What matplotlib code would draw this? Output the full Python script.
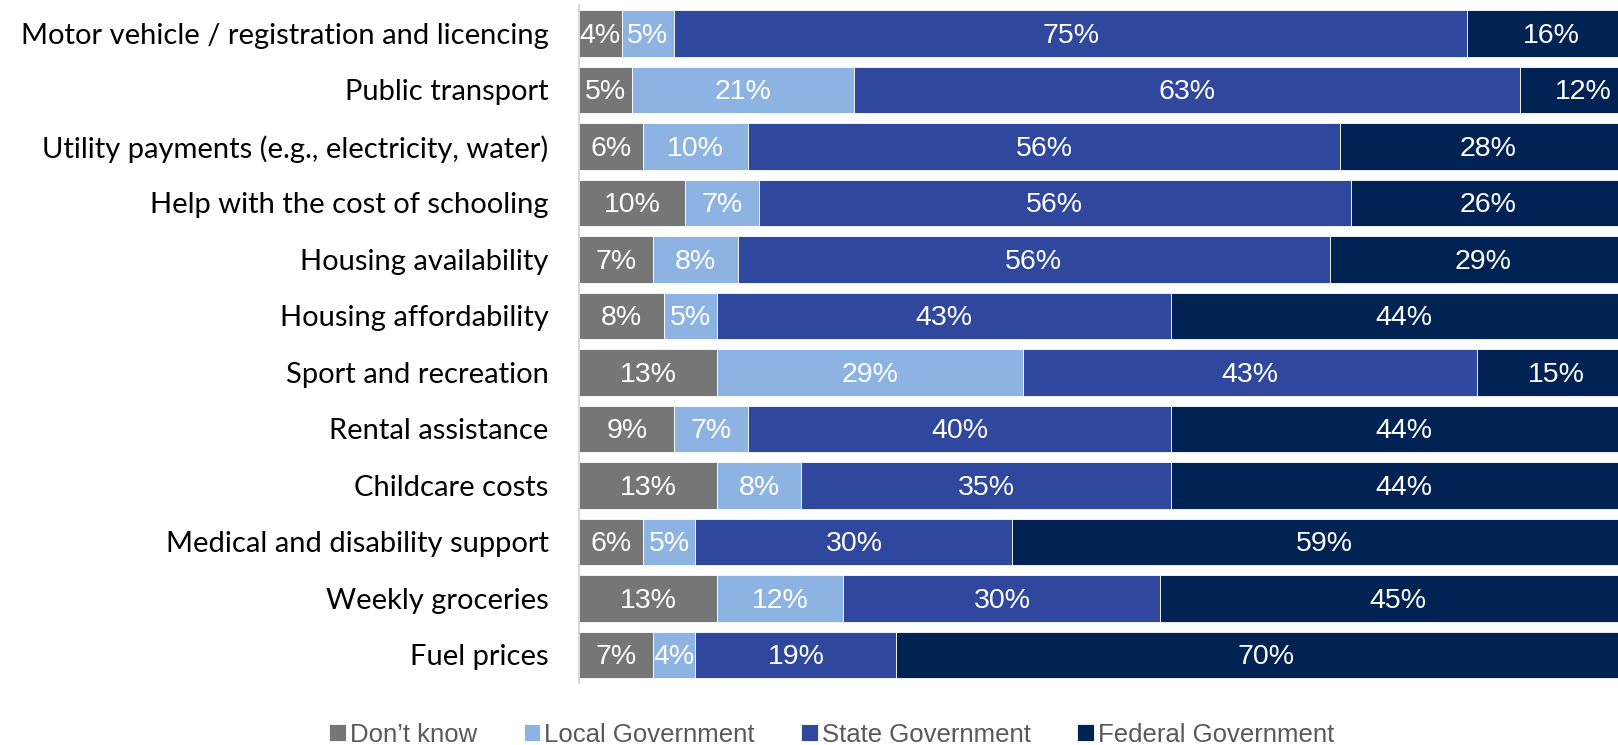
import matplotlib.pyplot as plt
import numpy as np

plt.rcParams['font.family'] = ['Liberation Sans', 'DejaVu Sans']

categories = [
    "Motor vehicle / registration and licencing",
    "Public transport",
    "Utility payments (e.g., electricity, water)",
    "Help with the cost of schooling",
    "Housing availability",
    "Housing affordability",
    "Sport and recreation",
    "Rental assistance",
    "Childcare costs",
    "Medical and disability support",
    "Weekly groceries",
    "Fuel prices",
]
dont_know = [4, 5, 6, 10, 7, 8, 13, 9, 13, 6, 13, 7]
local_gov = [5, 21, 10, 7, 8, 5, 29, 7, 8, 5, 12, 4]
state_gov = [75, 63, 56, 56, 56, 43, 43, 40, 35, 30, 30, 19]
federal_gov = [16, 12, 28, 26, 29, 44, 15, 44, 44, 59, 45, 70]

series = [
    ("Don\u2019t know", dont_know, "#767676"),
    ("Local Government", local_gov, "#8DB3E2"),
    ("State Government", state_gov, "#2F479C"),
    ("Federal Government", federal_gov, "#002354"),
]

fig = plt.figure(figsize=(16.18, 7.45), dpi=100)
ax = fig.add_axes([0.358, 0.083, 0.642, 0.91])

y = np.arange(len(categories))
left = np.zeros(len(categories))
for name, vals, color in series:
    vals = np.array(vals, dtype=float)
    ax.barh(y, vals, left=left, height=0.82, color=color, label=name,
            edgecolor='white', linewidth=0.6)
    for yi, l, v in zip(y, left, vals):
        ax.text(l + v / 2, yi + 0.04, f"{int(v)}%", ha='center', va='center',
                color='white', fontsize=20.5)
    left += vals

ax.set_xlim(0, 98.3)
ax.set_ylim(len(categories) - 0.5, -0.5)
ax.set_yticks(y)
ax.set_yticklabels(categories, fontsize=21, color='black', family='Lato')
ax.tick_params(axis='y', length=0, pad=22)
ax.set_xticks([])
for s in ['top', 'right', 'bottom']:
    ax.spines[s].set_visible(False)
ax.spines['left'].set_color('#D9D9D9')
ax.spines['left'].set_linewidth(1.5)

fig.legend(loc='center', bbox_to_anchor=(0.514, 0.014), ncol=4, frameon=False,
           fontsize=18.5, handlelength=0.66, handleheight=0.66, handletextpad=0.15,
           columnspacing=1.8, labelcolor='#595959')

fig.savefig('out.png', dpi=100)
